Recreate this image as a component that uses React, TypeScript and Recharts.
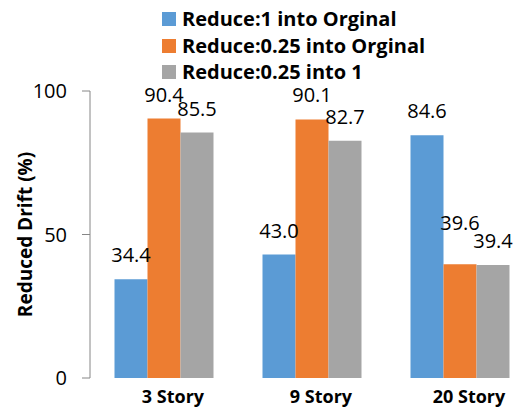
import React from "react";
import { Bar, BarChart, LabelList, XAxis, YAxis } from "recharts";

const categories = ["3 Story", "9 Story", "20 Story"];
const reduce1IntoOriginal = [34.4, 43.0, 84.6];
const reduce025IntoOriginal = [90.4, 90.1, 39.6];
const reduce025Into1 = [85.5, 82.7, 39.4];
const seriesNames = ["Reduce:1 into Orginal", "Reduce:0.25 into Orginal", "Reduce:0.25 into 1"];
const seriesColors = ["#5B9BD5", "#ED7D31", "#A5A5A5"];
const yTicks = [0, 50, 100];

const seriesValues = [reduce1IntoOriginal, reduce025IntoOriginal, reduce025Into1];
const keys = ["s0", "s1", "s2"];

const data = categories.map((name, i) => ({
  name,
  s0: reduce1IntoOriginal[i],
  s1: reduce025IntoOriginal[i],
  s2: reduce025Into1[i],
}));

const FONT = "'Open Sans', sans-serif";

function StoryTick({ x, y, payload }: any) {
  return (
    <text x={x + 9} y={y} dy={25} textAnchor="middle" fontFamily={FONT} fontWeight={700} fontSize={18} fill="#000">
      {payload.value}
    </text>
  );
}

function AxisTitle({ viewBox }: any) {
  const cx = viewBox.x + 25;
  const cy = viewBox.y + viewBox.height / 2;
  return (
    <text
      x={cx}
      y={cy}
      transform={`rotate(-90 ${cx} ${cy})`}
      textAnchor="middle"
      dominantBaseline="central"
      fontFamily={FONT}
      fontWeight={700}
      fontSize={19}
      fill="#000"
    >
      Reduced Drift (%)
    </text>
  );
}

// value label above a bar; lifted when the next bar's label would sit on top of it
function makeValueLabel(series: number) {
  return function ValueLabel(props: any) {
    const { x, y, width, index, value } = props;
    const next = seriesValues[series + 1];
    const clash = next && Math.abs(next[index] - value) < 2;
    const lift = clash ? 17 : 0;
    return (
      <text
        x={x + width / 2}
        y={y - 17 - lift}
        textAnchor="middle"
        fontFamily={FONT}
        fontSize={20}
        fill="#000"
      >
        {Number(value).toFixed(1)}
      </text>
    );
  };
}

export default function App() {
  return (
    <div
      style={{
        position: "absolute",
        left: 0,
        top: 0,
        width: 518,
        height: 409,
        overflow: "hidden",
        background: "#fff",
      }}
    >
      <BarChart
        width={540}
        height={409}
        data={data}
        margin={{ top: 91, right: 6, bottom: 0, left: 0 }}
        barCategoryGap={24.5}
        barGap={0}
      >
        <XAxis dataKey="name" height={31} axisLine={false} tickLine={false} tickSize={0} tickMargin={0} tick={<StoryTick />} />
        <YAxis
          width={90}
          domain={[0, 100]}
          ticks={yTicks}
          interval={0}
          tickSize={8}
          tickMargin={15}
          axisLine={{ stroke: "#868686" }}
          tickLine={{ stroke: "#868686" }}
          tick={{ fontSize: 20, fill: "#000", fontFamily: FONT }}
          label={<AxisTitle />}
        />
        {keys.map((key, i) => (
          <Bar key={key} dataKey={key} fill={seriesColors[i]} isAnimationActive={false}>
            <LabelList dataKey={key} content={makeValueLabel(i)} />
          </Bar>
        ))}
      </BarChart>
      <div style={{ position: "absolute", left: 162, top: 6, fontFamily: FONT }}>
        {seriesNames.map((name, i) => (
          <div key={name} style={{ display: "flex", alignItems: "center", height: 26.5 }}>
            <span style={{ width: 14, height: 14, background: seriesColors[i], marginRight: 6 }} />
            <span style={{ fontSize: 20, lineHeight: "20px", fontWeight: 700, color: "#000" }}>{name}</span>
          </div>
        ))}
      </div>
    </div>
  );
}
